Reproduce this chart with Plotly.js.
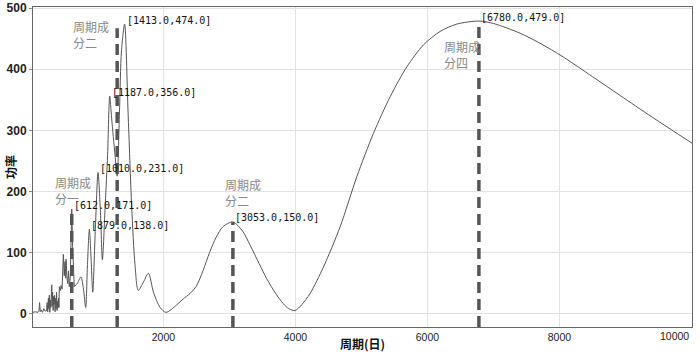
<!DOCTYPE html>
<html>
<head>
<meta charset="utf-8">
<script src="https://cdn.plot.ly/plotly-3.0.1.min.js"></script>
<style>html,body{margin:0;padding:0;background:#fff;}#chart{width:700px;height:353px;}</style>
</head>
<body>
<div id="chart"></div>
<script>
// noisy short-period part of the power spectrum
var noisyPeriod = [25, 60, 100, 115, 125, 135, 150, 170, 190, 210, 230, 240, 248, 258, 265, 272, 280, 288, 295, 303, 309, 315, 322, 330, 338, 345, 352, 360, 368, 375, 382, 390, 398, 405, 412, 418, 424, 440, 450, 465, 470, 485, 498, 510, 518, 526, 538, 551, 563, 575, 590, 600, 612, 625, 640, 650];
var noisyPower  = [2, 3, 2, 4, 18, 3, 6, 2, 8, 4, 5, 18, 3, 25, 8, 30, 2, 22, 10, 40, 47, 12, 35, 5, 28, 15, 30, 3, 25, 8, 35, 5, 20, 10, 25, 10, 44, 38, 46, 40, 55, 97, 62, 85, 58, 89, 60, 49, 70, 44, 60, 120, 171, 110, 50, 44];
// smooth longer-period part
var smoothPeriod = [650, 700, 750, 790, 823, 850, 879, 905, 930, 970, 1010, 1045, 1076, 1120, 1155, 1187, 1216, 1267, 1300, 1335, 1365, 1413, 1465, 1520, 1570, 1620, 1700, 1773, 1850, 1950, 2041, 2200, 2300, 2405, 2500, 2600, 2700, 2800, 2900, 3053, 3200, 3314, 3450, 3566, 3700, 3818, 3900, 3995, 4100, 4223, 4424, 4677, 4930, 5182, 5435, 5688, 5941, 6192, 6445, 6780, 7000, 7405, 7700, 8060, 8500, 8920, 9400, 10008];
var smoothPower  = [44, 50, 60, 40, 10, 80, 138, 90, 35, 140, 231, 170, 88, 180, 260, 356, 320, 260, 225, 330, 430, 474, 330, 175, 80, 38, 52, 66, 35, 10, 2, 14, 24, 33, 45, 70, 100, 125, 142, 150, 135, 112, 82, 57, 33, 16, 8, 5, 15, 33, 76, 142, 224, 295, 355, 404, 440, 462, 474, 479, 475, 459, 443, 420, 388, 357, 322, 279];

// labelled peaks
var peakX = [612, 879, 1010, 1187, 1413, 3053, 6780];
var peakY = [171, 138, 231, 356, 474, 150, 479];

// dashed component markers
var markX = [612, 1300, 3053, 6780];
var markTop = [171, 467, 150, 479];

// component labels
var compText = ['周期成<br>分一', '周期成<br>分二', '周期成<br>分二', '周期成<br>分四'];
var compX = [328, 596, 2899, 6216];
var compY = [201, 457, 199, 425];

var xTickVals = [2000, 4000, 6000, 8000];
var xTickText = ['2000', '4000', '6000', '8000'];
var xEndTick = 10000;
var xEndText = '10000';
var yTickVals = [0, 100, 200, 300, 400, 500];

var xRange = [25, 10008];
var yRange = [-22, 502];

var traces = [];
markX.forEach(function (mx, i) {
  traces.push({
    x: [mx, mx], y: [yRange[0], markTop[i]], mode: 'lines',
    line: {color: '#555', width: 3.5, dash: '11px,6px'},
    hoverinfo: 'skip', showlegend: false
  });
});
traces.push({x: noisyPeriod, y: noisyPower, mode: 'lines', line: {color: '#555', width: 1}, showlegend: false});
traces.push({x: smoothPeriod, y: smoothPower, mode: 'lines', line: {color: '#555', width: 1, shape: 'spline', smoothing: 0.8}, showlegend: false});

var tickFont = {family: 'Liberation Sans', size: 10.5, color: '#222'};

var ann = [];
peakX.forEach(function (px, i) {
  ann.push({
    x: px, y: peakY[i], xref: 'x', yref: 'y', showarrow: false,
    text: '[' + px.toFixed(1) + ',' + peakY[i].toFixed(1) + ']',
    xanchor: 'left', yanchor: 'middle', xshift: 0, yshift: 4,
    font: {family: 'DejaVu Sans Mono', size: 10, color: '#111'}
  });
});
compText.forEach(function (t, i) {
  ann.push({
    x: compX[i], y: compY[i], xref: 'x', yref: 'y', showarrow: false,
    text: t, xanchor: 'left', yanchor: 'middle', align: 'left',
    font: {family: 'Noto Sans CJK SC', size: 12, color: '#888'}
  });
});
// last x tick label, right-aligned to its tick as in the reference
ann.push({
  x: xEndTick, y: 0, xref: 'x', yref: 'paper', showarrow: false,
  text: xEndText, xanchor: 'right', yanchor: 'top', yshift: -1,
  font: tickFont
});
ann.push({
  x: (10 - 33) / 659, y: 0.5, xref: 'paper', yref: 'paper', showarrow: false,
  text: '功率', textangle: -90, xanchor: 'center', yanchor: 'middle',
  font: {family: 'Noto Sans CJK SC', size: 12, color: '#111', weight: 'bold'}
});
ann.push({
  x: 0.5, y: -(343 - 327) / 320, xref: 'paper', yref: 'paper', showarrow: false,
  text: '周期(日)', xanchor: 'center', yanchor: 'middle',
  font: {family: 'Noto Sans CJK SC', size: 12, color: '#111', weight: 'bold'}
});

var layout = {
  width: 700, height: 353,
  margin: {l: 33, r: 8, t: 7, b: 26, pad: 0},
  paper_bgcolor: '#fff', plot_bgcolor: '#fff',
  showlegend: false,
  xaxis: {
    range: xRange, tickvals: xTickVals, ticktext: xTickText,
    showgrid: true, gridcolor: '#e2e2e2', gridwidth: 1,
    zeroline: false, showline: true, linecolor: '#666', linewidth: 1, mirror: true,
    ticks: '', tickfont: tickFont
  },
  yaxis: {
    range: yRange, tickvals: yTickVals,
    showgrid: true, gridcolor: '#e2e2e2', gridwidth: 1,
    zeroline: false, showline: true, linecolor: '#666', linewidth: 1, mirror: true,
    ticks: 'outside', ticklen: 3, tickcolor: '#888',
    tickfont: {family: 'Liberation Sans', size: 12, color: '#222', weight: 'bold'}
  },
  annotations: ann
};

Plotly.newPlot('chart', traces, layout, {staticPlot: true, displayModeBar: false});
</script>
</body>
</html>
